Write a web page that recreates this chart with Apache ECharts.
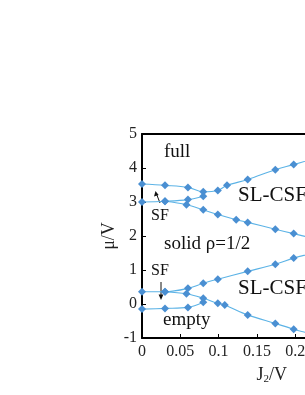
<!DOCTYPE html>
<html>
<head>
<meta charset="utf-8">
<script src="https://cdn.jsdelivr.net/npm/echarts@6/dist/echarts.min.js"></script>
<style>
html,body{margin:0;padding:0;background:#fff;}
#c{width:305px;height:395px;}
</style>
</head>
<body>
<div id="c"></div>
<script>
// Phase boundary data
var upperTopX = [0, 0.03, 0.06, 0.08, 0.099, 0.111, 0.138, 0.174, 0.198, 0.225];
var upperTopY = [3.53, 3.49, 3.43, 3.30, 3.34, 3.49, 3.66, 3.95, 4.10, 4.28];
var upperMidX = [0, 0.03, 0.06, 0.08];
var upperMidY = [3.00, 3.02, 3.07, 3.17];
var upperLowX = [0.03, 0.058, 0.08, 0.099, 0.123, 0.138, 0.174, 0.198, 0.225];
var upperLowY = [3.02, 2.92, 2.77, 2.63, 2.48, 2.40, 2.20, 2.07, 1.92];
var lowerUpX = [0, 0.03, 0.06, 0.08, 0.099, 0.138, 0.174, 0.198, 0.225];
var lowerUpY = [0.36, 0.36, 0.46, 0.61, 0.73, 0.96, 1.17, 1.35, 1.50];
var lowerMidX = [0.03, 0.058, 0.08, 0.099, 0.108, 0.138, 0.174, 0.198, 0.225];
var lowerMidY = [0.36, 0.30, 0.17, 0.02, -0.03, -0.32, -0.57, -0.74, -0.90];
var lowerBotX = [0, 0.03, 0.06, 0.08];
var lowerBotY = [-0.15, -0.13, -0.10, 0.05];

var xTicks = [0, 0.05, 0.1, 0.15, 0.2, 0.25];
var yTicks = [-1, 0, 1, 2, 3, 4, 5];

function pts(xs, ys){ return xs.map(function(x,i){ return [x, ys[i]]; }); }

var FONT = '"Liberation Serif", "DejaVu Serif", serif';
var lineColor = '#5cb3e6';
var markColor = '#4a8fd2';

function mkSeries(xs, ys){
  return {
    type: 'line',
    data: pts(xs, ys),
    smooth: 0.35,
    symbol: 'diamond',
    symbolSize: 8,
    showSymbol: true,
    clip: false,
    lineStyle: {color: lineColor, width: 1.1},
    itemStyle: {color: markColor},
    animation: false,
    z: 3
  };
}

var chart = echarts.init(document.getElementById('c'), null, {renderer:'canvas'});
var axisLineStyle = {color:'#000', width:2};
chart.setOption({
  animation: false,
  grid: {left: 142, top: 134, width: 191.5, height: 204, containLabel: false, outerBoundsMode: 'none'},
  xAxis: [{
    type: 'value', min: 0, max: 0.25, interval: 0.05,
    axisLine: {show: true, onZero: false, lineStyle: axisLineStyle},
    axisTick: {show: true, inside: true, length: 4, lineStyle: {color:'#000', width:1}},
    axisLabel: {fontFamily: FONT, fontSize: 16, color: '#222', margin: 6,
      formatter: function(v){ return String(parseFloat(v.toFixed(2))); }},
    splitLine: {show: false},
    name: '{a|J}{s|2}{a|/V}',
    nameLocation: 'middle',
    nameGap: 27,
    nameTextStyle: {padding: [0,0,0,68], rich: {
      a: {fontFamily: FONT, fontSize: 18, color: '#222'},
      s: {fontFamily: FONT, fontSize: 11, color: '#222', verticalAlign: 'bottom', padding:[9,0,0,0]}
    }}
  },{
    type: 'value', position: 'top', min: 0, max: 0.25, interval: 0.05,
    axisLine: {show: true, onZero: false, lineStyle: axisLineStyle},
    axisTick: {show: false}, axisLabel: {show: false}, splitLine: {show: false}
  }],
  yAxis: [{
    type: 'value', min: -1, max: 5, interval: 1,
    axisLine: {show: true, onZero: false, lineStyle: axisLineStyle},
    axisTick: {show: true, inside: true, length: 4, lineStyle: {color:'#000', width:1}},
    axisLabel: {fontFamily: FONT, fontSize: 16, color: '#222', margin: 5},
    splitLine: {show: false},
    name: 'μ/V',
    nameLocation: 'middle',
    nameGap: 24,
    nameMoveOverlap: false,
    nameRotate: 90,
    nameTextStyle: {fontFamily: FONT, fontSize: 18, color: '#222'}
  }],
  series: [
    mkSeries(upperTopX, upperTopY),
    mkSeries(upperMidX, upperMidY),
    mkSeries(upperLowX, upperLowY),
    mkSeries(lowerUpX, lowerUpY),
    mkSeries(lowerMidX, lowerMidY),
    mkSeries(lowerBotX, lowerBotY)
  ],
  graphic: [
    {type:'text', left:164, top:143, style:{text:'full', font:'19px '+FONT, fill:'#111'}},
    {type:'text', left:238, top:185, style:{text:'SL-CSF', font:'21px '+FONT, fill:'#111'}},
    {type:'text', left:164, top:235, style:{text:'solid ρ=1/2', font:'19px '+FONT, fill:'#111'}},
    {type:'text', left:238, top:278, style:{text:'SL-CSF', font:'21px '+FONT, fill:'#111'}},
    {type:'text', left:163, top:311, style:{text:'empty', font:'19px '+FONT, fill:'#111'}},
    {type:'text', left:151, top:208, style:{text:'SF', font:'16px '+FONT, fill:'#111'}},
    {type:'text', left:151, top:263, style:{text:'SF', font:'16px '+FONT, fill:'#111'}},
    {type:'line', shape:{x1:160, y1:203, x2:156.5, y2:194}, style:{stroke:'#111', lineWidth:1}},
    {type:'polygon', shape:{points:[[155.5,191],[154,196.5],[158.6,195]]}, style:{fill:'#111'}},
    {type:'line', shape:{x1:161, y1:282, x2:161, y2:296}, style:{stroke:'#111', lineWidth:1}},
    {type:'polygon', shape:{points:[[161,300],[158.6,294.5],[163.4,294.5]]}, style:{fill:'#111'}}
  ]
});
</script>
</body>
</html>
